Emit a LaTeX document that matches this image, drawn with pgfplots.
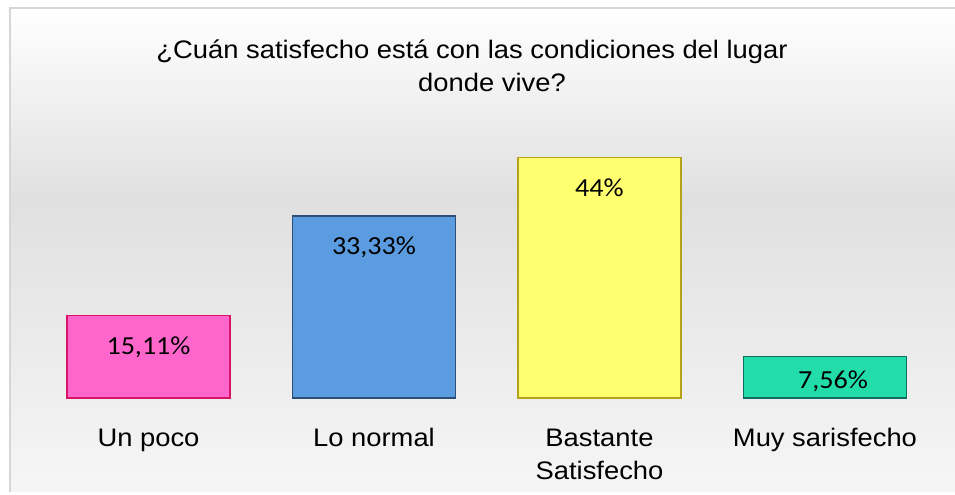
\documentclass[border=0pt]{standalone}
\usepackage{fontspec}
\setmainfont{Liberation Sans}[FakeStretch=1.08]
\newfontfamily\calib{Carlito}[FakeStretch=1.08]
\usepackage{pgfplots}
\pgfplotsset{compat=1.18}

% bar colours
\definecolor{pinkfill}{HTML}{FF66CC}
\definecolor{pinkline}{HTML}{D81565}
\definecolor{bluefill}{HTML}{5B9BE0}
\definecolor{blueline}{HTML}{2E4E78}
\definecolor{yelfill}{HTML}{FFFF70}
\definecolor{yelline}{HTML}{B5A21A}
\definecolor{tealfill}{HTML}{22DDAA}
\definecolor{tealline}{HTML}{0D6E5E}
\definecolor{bgmid}{HTML}{E0E0E0}
\definecolor{bgbot}{HTML}{F6F6F6}
\definecolor{frame}{HTML}{D6D6D6}

\begin{document}
\begin{tikzpicture}
  % background, in pixels (1px = 0.75pt), y measured upward
  \begin{scope}[x=0.75pt,y=0.75pt]
    \useasboundingbox (0,0) rectangle (955,491);
    \clip (0,0) rectangle (955,491);
    \fill[white] (0,0) rectangle (955,491);
    \shade[top color=white, bottom color=bgmid] (10,483) rectangle (970,291);
    \shade[top color=bgmid, bottom color=bgbot] (10,291) rectangle (970,-5);
    \draw[frame, line width=1.2pt] (10,483) rectangle (970,-10);

    \node[anchor=base, font=\fontsize{19}{24}\selectfont] at (472,432)
      {¿Cuán satisfecho está con las condiciones del lugar};
    \node[anchor=base, font=\fontsize{19}{24}\selectfont] at (492,399)
      {donde vive?};
  \end{scope}

  \begin{axis}[
    at={(18.375pt,69.75pt)}, anchor=south west,
    scale only axis, width=684.9pt, height=205.1pt,
    xmin=-0.55, xmax=3.5, ymin=0, ymax=50,
    axis line style={draw=none}, tick style={draw=none},
    ytick=\empty, xtick={0,1,2,3},
    xticklabels={Un poco, Lo normal,
      {\begin{tabular}[t]{@{}c@{}}Bastante\\Satisfecho\end{tabular}},
      Muy sarisfecho},
    xticklabel style={anchor=base, yshift=-32.25pt,
      font=\fontsize{19}{24.75}\selectfont},
    ybar, bar width=0.723, bar shift=0pt,
    nodes near coords, point meta=explicit symbolic,
    every node near coord/.append style={anchor=base, yshift=-29.25pt,
      font=\calib\fontsize{19.5}{24}\selectfont, text=black},
  ]
    \addplot[fill=pinkfill, draw=pinkline, line width=1.2pt]
      coordinates {(0,15.11) [15,11\%]};
    \addplot[fill=bluefill, draw=blueline, line width=1.2pt]
      coordinates {(1,33.33) [33,33\%]};
    \addplot[fill=yelfill, draw=yelline, line width=1.2pt]
      coordinates {(2,44) [44\%]};
    \addplot[fill=tealfill, draw=tealline, line width=1.2pt,
      every node near coord/.append style={yshift=5pt, xshift=6pt}]
      coordinates {(3,7.56) [7,56\%]};
  \end{axis}
\end{tikzpicture}
\end{document}
